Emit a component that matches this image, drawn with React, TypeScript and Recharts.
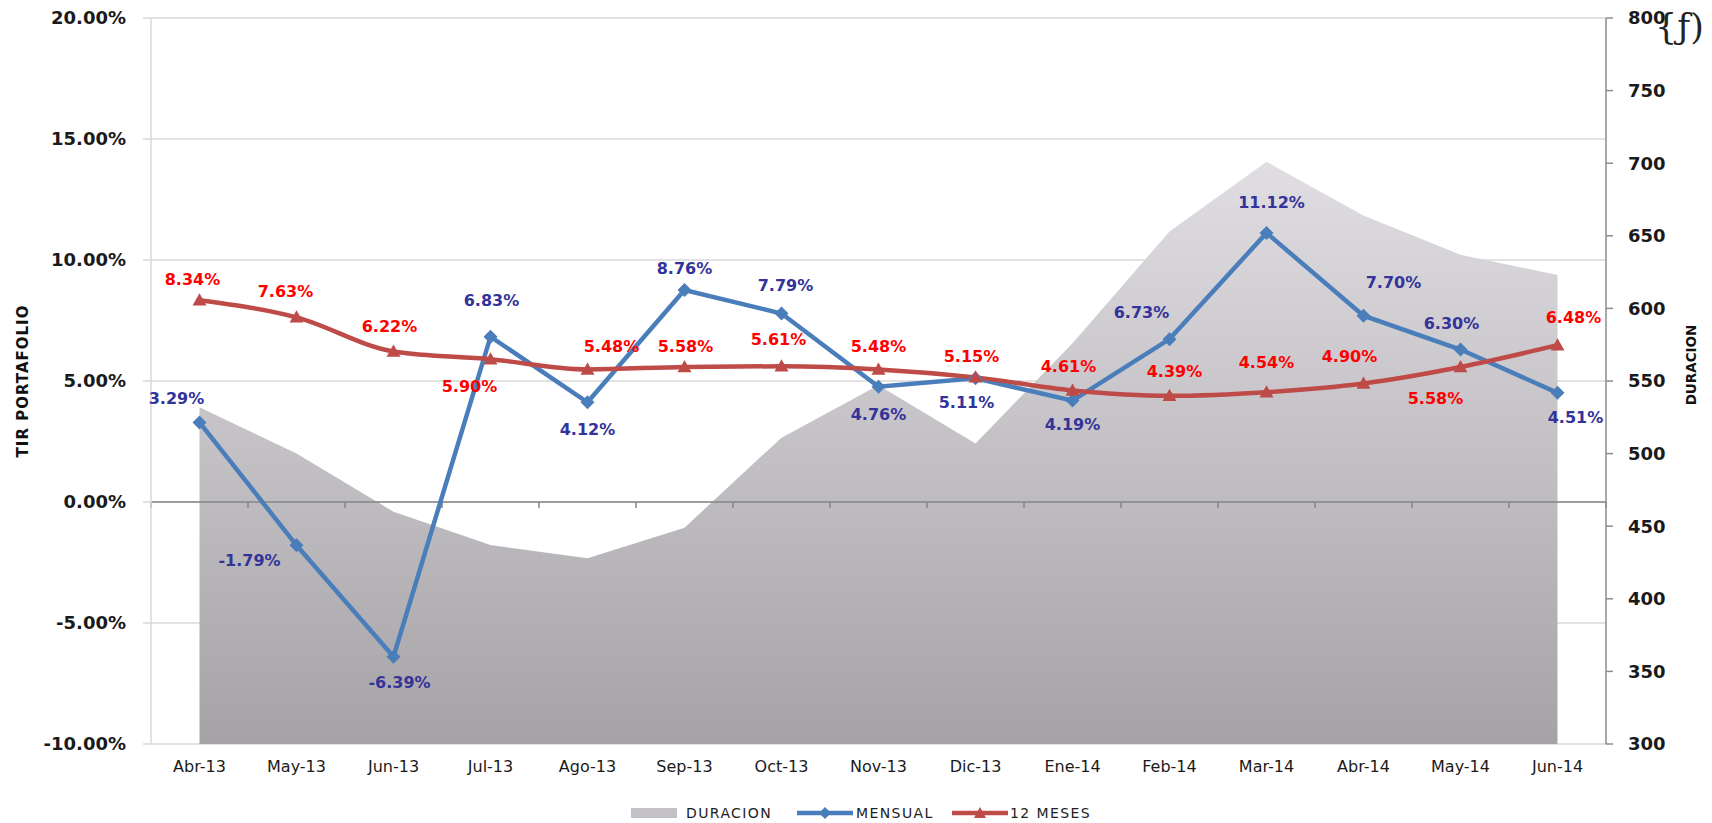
import React from 'react';
import {
  ComposedChart,
  Area,
  Line,
  XAxis,
  YAxis,
  CartesianGrid,
  ReferenceLine,
  LabelList,
} from 'recharts';

const categories = ['Abr-13', 'May-13', 'Jun-13', 'Jul-13', 'Ago-13', 'Sep-13', 'Oct-13', 'Nov-13', 'Dic-13', 'Ene-14', 'Feb-14', 'Mar-14', 'Abr-14', 'May-14', 'Jun-14'];
const duracion = [532, 500, 460, 437, 428, 449, 511, 547, 507, 576, 653, 701, 664, 637, 623];
const mensual = [3.29, -1.79, -6.39, 6.83, 4.12, 8.76, 7.79, 4.76, 5.11, 4.19, 6.73, 11.12, 7.7, 6.3, 4.51];
const meses12 = [8.34, 7.63, 6.22, 5.9, 5.48, 5.58, 5.61, 5.48, 5.15, 4.61, 4.39, 4.54, 4.9, 5.58, 6.48];
const leftTicks = [-10, -5, 0, 5, 10, 15, 20];
const rightTicks = [300, 350, 400, 450, 500, 550, 600, 650, 700, 750, 800];

// label placement (dx, dy) relative to each point
const mensualLabelOffset: [number, number][] = [
  [-23, -24], [-47, 15], [6, 26], [1, -36], [0, 27], [0, -22], [4, -28], [0, 27],
  [-9, 24], [0, 24], [-28, -27], [5, -31], [30, -33], [-9, -26], [18, 24],
];
const mesesLabelOffset: [number, number][] = [
  [-7, -21], [-11, -26], [-4, -25], [-21, 27], [24, -23], [1, -21], [-3, -27], [0, -23],
  [-4, -21], [-4, -24], [5, -25], [0, -30], [-14, -27], [-25, 31], [16, -28],
];

const data = categories.map((c, i) => ({
  idx: i,
  cat: c,
  duracion: duracion[i],
  mensual: mensual[i],
  meses12: meses12[i],
}));

const FONT = '"DejaVu Sans", Verdana, sans-serif';

const Diamond = (props: any) => {
  const { cx, cy } = props;
  if (cx == null || cy == null) return null;
  const s = 7;
  return <polygon points={`${cx},${cy - s} ${cx + s},${cy} ${cx},${cy + s} ${cx - s},${cy}`} fill="#4a7ebb" />;
};

const Triangle = (props: any) => {
  const { cx, cy } = props;
  if (cx == null || cy == null) return null;
  const s = 7;
  return <polygon points={`${cx},${cy - s} ${cx + s},${cy + s * 0.75} ${cx - s},${cy + s * 0.75}`} fill="#be4b48" />;
};

const makeLabel = (offsets: [number, number][], color: string) => (props: any) => {
  const { x, y, index, value } = props;
  if (x == null || y == null) return null;
  const [dx, dy] = offsets[index] || [0, -24];
  return (
    <text
      x={x + dx}
      y={y + dy}
      dy="0.36em"
      textAnchor="middle"
      fill={color}
      fontFamily={FONT}
      fontWeight="bold"
      fontSize={16}
    >
      {Number(value).toFixed(2)}%
    </text>
  );
};

const boundaries = Array.from({ length: categories.length + 1 }, (_, k) => k - 0.5);

export default function App() {
  return (
    <div style={{ position: 'absolute', left: 0, top: 0, width: 1712, height: 823, background: '#fff', fontFamily: FONT }}>
      <ComposedChart
        width={1712}
        height={823}
        data={data}
        margin={{ top: 18, right: 0, bottom: 39, left: 0 }}
      >
        <defs>
          <linearGradient id="gradDur" x1="0" y1="0" x2="0" y2="1">
            <stop offset="0%" stopColor="#e0dee2" />
            <stop offset="100%" stopColor="#a6a3a7" />
          </linearGradient>
        </defs>
        <CartesianGrid yAxisId="left" vertical={false} stroke="#d9d9d9" strokeWidth={1.5} />
        <XAxis
          dataKey="idx"
          type="number"
          domain={[-0.5, 14.5]}
          ticks={categories.map((_, i) => i)}
          interval={0}
          tickFormatter={(v: number) => categories[v] ?? ''}
          axisLine={false}
          tickLine={false}
          tickSize={0}
          tickMargin={17}
          height={40}
          tick={{ fill: '#1a1a1a', fontSize: 16, fontFamily: FONT }}
        />
        <YAxis
          yAxisId="left"
          domain={[-10, 20]}
          ticks={leftTicks}
          interval={0}
          width={151}
          tickFormatter={(v: number) => `${v.toFixed(2)}%`}
          axisLine={{ stroke: '#d9d9d9', strokeWidth: 1.5 }}
          tickLine={{ stroke: '#d9d9d9', strokeWidth: 1.5 }}
          tickSize={8}
          tickMargin={17}
          tick={{ fill: '#1a1a1a', fontSize: 18, fontWeight: 'bold', fontFamily: FONT }}
          label={{
            content: (p: any) => {
              const vb = p.viewBox || { y: 18, height: 726 };
              const cy = vb.y + vb.height / 2;
              return (
                <text
                  x={23}
                  y={cy}
                  transform={`rotate(-90 23 ${cy})`}
                  textAnchor="middle"
                  dy="0.36em"
                  fill="#111"
                  fontFamily={FONT}
                  fontWeight="bold"
                  fontSize={15}
                  letterSpacing={1}
                >
                  TIR PORTAFOLIO
                </text>
              );
            },
          }}
        />
        <YAxis
          yAxisId="right"
          orientation="right"
          domain={[300, 800]}
          ticks={rightTicks}
          interval={0}
          width={106}
          axisLine={{ stroke: '#8c8c8c', strokeWidth: 1.5 }}
          tickLine={{ stroke: '#8c8c8c', strokeWidth: 1.5 }}
          tickSize={7}
          tickMargin={15}
          tick={{ fill: '#1a1a1a', fontSize: 18, fontWeight: 'bold', fontFamily: FONT }}
          label={{
            content: (p: any) => {
              const vb = p.viewBox || { y: 18, height: 726 };
              const cy = vb.y + vb.height / 2 - 16;
              return (
                <text
                  x={1691}
                  y={cy}
                  transform={`rotate(-90 1691 ${cy})`}
                  textAnchor="middle"
                  dy="0.36em"
                  fill="#111"
                  fontFamily={FONT}
                  fontWeight="bold"
                  fontSize={13.5}
                >
                  DURACION
                </text>
              );
            },
          }}
        />
        <Area
          yAxisId="right"
          dataKey="duracion"
          type="linear"
          baseValue="dataMin"
          fill="url(#gradDur)"
          fillOpacity={1}
          stroke="none"
          isAnimationActive={false}
          activeDot={false}
        />
        <ReferenceLine yAxisId="left" y={0} stroke="#868686" strokeWidth={1.5} />
        {boundaries.map((b) => (
          <ReferenceLine
            key={`b${b}`}
            yAxisId="left"
            segment={[{ x: b, y: 0 }, { x: b, y: -0.25 }]}
            stroke="#868686"
            strokeWidth={1.5}
          />
        ))}
        <Line
          yAxisId="left"
          dataKey="mensual"
          type="linear"
          stroke="#4a7ebb"
          strokeWidth={4.5}
          dot={<Diamond />}
          activeDot={false}
          isAnimationActive={false}
        >
          <LabelList dataKey="mensual" content={makeLabel(mensualLabelOffset, '#333399')} />
        </Line>
        <Line
          yAxisId="left"
          dataKey="meses12"
          type="monotone"
          stroke="#be4b48"
          strokeWidth={4.5}
          dot={<Triangle />}
          activeDot={false}
          isAnimationActive={false}
        >
          <LabelList dataKey="meses12" content={makeLabel(mesesLabelOffset, '#ff0000')} />
        </Line>
      </ComposedChart>

      <div
        style={{
          position: 'absolute',
          left: 1655,
          top: 5,
          fontFamily: '"DejaVu Serif", "Liberation Serif", serif',
          fontSize: 35,
          lineHeight: '44px',
          color: '#222',
          pointerEvents: 'none',
          whiteSpace: 'nowrap',
        }}
      >
        {'{ƒ)'}
      </div>

      <div style={{ position: 'absolute', left: 0, top: 804, width: 1712, height: 18, fontFamily: FONT, fontSize: 14, color: '#222', letterSpacing: 1.4 }}>
        <svg style={{ position: 'absolute', left: 631, top: 3 }} width={46} height={12}>
          <rect x={0} y={1} width={46} height={10} fill="#c3c1c5" />
        </svg>
        <span style={{ position: 'absolute', left: 686, top: 0, lineHeight: '18px' }}>DURACION</span>
        <svg style={{ position: 'absolute', left: 797, top: 0 }} width={56} height={18}>
          <line x1={0} y1={9} x2={56} y2={9} stroke="#4a7ebb" strokeWidth={4.5} />
          <polygon points="28,3 34,9 28,15 22,9" fill="#4a7ebb" />
        </svg>
        <span style={{ position: 'absolute', left: 856, top: 0, lineHeight: '18px' }}>MENSUAL</span>
        <svg style={{ position: 'absolute', left: 952, top: 0 }} width={56} height={18}>
          <line x1={0} y1={9} x2={56} y2={9} stroke="#be4b48" strokeWidth={4.5} />
          <polygon points="28,3 34,14 22,14" fill="#be4b48" />
        </svg>
        <span style={{ position: 'absolute', left: 1010, top: 0, lineHeight: '18px' }}>12 MESES</span>
      </div>
    </div>
  );
}
